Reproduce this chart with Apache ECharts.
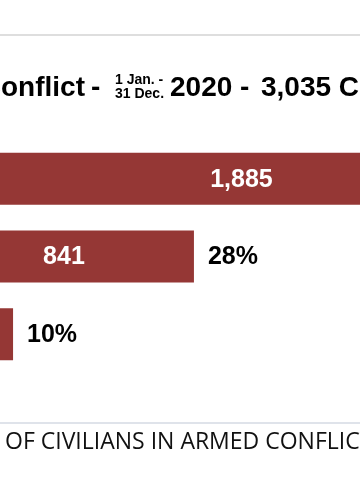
<!DOCTYPE html>
<html>
<head>
<meta charset="utf-8">
<script src="https://cdn.jsdelivr.net/npm/echarts@6/dist/echarts.min.js"></script>
<style>
html,body{margin:0;padding:0;background:#fff;}
#chart{width:360px;height:504px;}
</style>
</head>
<body>
<div id="chart"></div>
<script>
// Data
const categories = ['Injured', 'Killed', 'Other'];
const values = [1885, 841, 309];
const percentLabels = ['62%', '28%', '10%'];
const titleMain = 'Civilian Casualties in Armed Conflict';
const titleDash = '-';
const titleDates = '1 Jan. -\n31 Dec.';
const titleYear = '2020 -';
const titleTotal = '3,035 Civilian Casualties';
const footerText = 'PROTECTION OF CIVILIANS IN ARMED CONFLICT';

const BAR = '#953735';
const SANS = '"Liberation Sans", Arial, sans-serif';

const chart = echarts.init(document.getElementById('chart'), null, {renderer: 'canvas'});
chart.setOption({
  backgroundColor: '#ffffff',
  animation: false,
  grid: {left: -92, top: 140, width: 680, height: 233, containLabel: false, outerBoundsMode: 'none'},
  xAxis: {type: 'value', min: 0, max: 2000, show: false},
  yAxis: {type: 'category', data: categories, inverse: true, show: false},
  series: [
    {
      type: 'bar',
      data: values,
      barCategoryGap: '33%',
      itemStyle: {color: BAR},
      label: {
        show: true, position: 'inside', offset: [13, 1],
        color: '#ffffff', fontFamily: SANS, fontWeight: 'bold', fontSize: 25,
        formatter: p => p.value.toLocaleString('en-US')
      }
    },
    {
      type: 'bar',
      data: values,
      barGap: '-100%',
      barCategoryGap: '33%',
      itemStyle: {color: 'rgba(0,0,0,0)'},
      label: {
        show: true, position: 'right', distance: 14, offset: [0, 1],
        color: '#000000', fontFamily: SANS, fontWeight: 'bold', fontSize: 25,
        formatter: p => percentLabels[p.dataIndex]
      }
    }
  ],
  graphic: [
    {type: 'line', shape: {x1: 0, y1: 35, x2: 360, y2: 35}, style: {stroke: '#dedede', lineWidth: 2}},
    {type: 'text', x: 85, y: 88, style: {text: titleMain, textAlign: 'right', textVerticalAlign: 'middle', font: 'bold 28px ' + SANS, fill: '#000'}},
    {type: 'text', x: 91, y: 88, style: {text: titleDash, textAlign: 'left', textVerticalAlign: 'middle', font: 'bold 28px ' + SANS, fill: '#000'}},
    {type: 'text', x: 115, y: 87, style: {text: titleDates, textAlign: 'left', textVerticalAlign: 'middle', font: 'bold 14px ' + SANS, lineHeight: 14, fill: '#000'}},
    {type: 'text', x: 170, y: 88, style: {text: titleYear, textAlign: 'left', textVerticalAlign: 'middle', font: 'bold 28px ' + SANS, fill: '#000'}},
    {type: 'text', x: 261, y: 88, style: {text: titleTotal, textAlign: 'left', textVerticalAlign: 'middle', font: 'bold 28px ' + SANS, fill: '#000'}},
    {type: 'line', shape: {x1: 0, y1: 423, x2: 360, y2: 423}, style: {stroke: '#d5dae3', lineWidth: 1.5}},
    {type: 'text', x: 5, y: 442, style: {text: footerText.replace('PROTECTION ', ''), textAlign: 'left', textVerticalAlign: 'middle', font: '23px "Open Sans", sans-serif', fill: '#111'}},
    {type: 'text', x: 0, y: 442, style: {text: 'PROTECTION ', textAlign: 'right', textVerticalAlign: 'middle', font: '23px "Open Sans", sans-serif', fill: '#111'}}
  ]
});
</script>
</body>
</html>
